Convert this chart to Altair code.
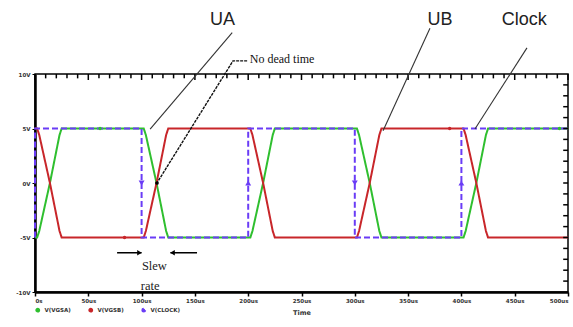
import altair as alt
import pandas as pd

# ---- data ----
time_us = [0, 2, 4, 14, 23, 25, 100, 102, 104, 114, 123, 125, 200, 202, 204, 214, 223, 225,
           300, 302, 304, 314, 323, 325, 400, 402, 404, 414, 423, 425, 500]
ua_volts = [-5, -5, -4.4, 0, 4.4, 5, 5, 5, 4.4, 0, -4.4, -5, -5, -5, -4.4, 0, 4.4, 5,
            5, 5, 4.4, 0, -4.4, -5, -5, -5, -4.4, 0, 4.4, 5, 5]
ub_volts = [5, 5, 4.4, 0, -4.4, -5, -5, -5, -4.4, 0, 4.4, 5, 5, 5, 4.4, 0, -4.4, -5,
            -5, -5, -4.4, 0, 4.4, 5, 5, 5, 4.4, 0, -4.4, -5, -5]
clock_time = [0, 0, 100, 100, 200, 200, 300, 300, 400, 400, 500]
clock_volts = [-5, 5, 5, -5, -5, 5, 5, -5, -5, 5, 5]

series_names = ["V(VGSA)", "V(VGSB)", "V(CLOCK)"]
series_colors = ["#2fbf2f", "#c8262a", "#6a3cf6"]

clock_down_t = [100, 300]
clock_up_t = [200, 400]

marker_series = ["V(VGSA)", "V(VGSA)", "V(VGSB)", "V(VGSB)"]
marker_t = [61, 492, 84, 389]
marker_v = [5, 5, -5, 5]

x_ticks = [0, 50, 100, 150, 200, 250, 300, 350, 400, 450, 500]
y_ticks = [-10, -5, 0, 5, 10]
top_minor = list(range(0, 501, 10))
right_minor = list(range(-9, 10, 1))

callout_text = ["UA", "UB", "Clock"]
callout_t = [176, 380, 459]
callout_v = [15.0, 15.0, 15.0]

leader_id = ["UA", "UA", "UB", "UB", "CK", "CK"]
leader_t = [185, 108, 370.5, 326.5, 461.5, 412.7]
leader_v = [13.8, 4.95, 14.2, 4.8, 12.4, 4.95]

ndt_t = [199, 185.7, 114.4]
ndt_v = [11.2, 11.2, 0]

slew_shaft_t = [77, 127]
slew_shaft_t2 = [100, 152]
slew_right_head_t = [98]
slew_left_head_t = [129]
slew_v = -6.4

# ---- tables ----
rows = []
for i, (t, v) in enumerate(zip(time_us, ua_volts)):
    rows.append({"series": series_names[0], "t": t, "v": v, "o": i})
for i, (t, v) in enumerate(zip(time_us, ub_volts)):
    rows.append({"series": series_names[1], "t": t, "v": v, "o": i})
for i, (t, v) in enumerate(zip(clock_time, clock_volts)):
    rows.append({"series": series_names[2], "t": t, "v": v, "o": i})
wave = pd.DataFrame(rows)

xs = alt.Scale(domain=[0, 500], nice=False, zero=False)
ys = alt.Scale(domain=[-10, 10], nice=False, zero=False)
cs = alt.Scale(domain=series_names, range=series_colors)

x_axis = alt.Axis(values=x_ticks, labelExpr="datum.value == 0 ? '0s' : datum.value + 'us'",
                  title="Time", grid=False, labelFontSize=5.5, titleFontSize=6.5,
                  labelFont="DejaVu Sans", titleFont="DejaVu Sans", labelFontWeight="bold",
                  titleFontWeight="bold", tickSize=4, tickWidth=1.5, tickColor="black",
                  domainColor="black", domainWidth=2.5, labelPadding=2, titlePadding=6,
                  labelColor="#333", titleColor="#333")
y_axis = alt.Axis(values=y_ticks, labelExpr="datum.value + 'V'", title=None, grid=False,
                  labelFontSize=5.5, labelFont="DejaVu Sans", labelFontWeight="bold",
                  tickSize=3, tickColor="black", domainColor="black", domainWidth=2.5,
                  labelColor="#333", labelPadding=2)


def X(f="t"):
    return alt.X(f"{f}:Q", scale=xs, axis=x_axis)


def Y(f="v"):
    return alt.Y(f"{f}:Q", scale=ys, axis=y_axis)


lines = alt.Chart(wave).mark_line(strokeWidth=2, interpolate="linear").encode(
    x=X(), y=Y(),
    color=alt.Color("series:N", scale=cs, sort=series_names,
                    legend=alt.Legend(orient="none", legendX=0, legendY=233, direction="horizontal",
                                      title=None, symbolType="circle", symbolSize=8,
                                      symbolStrokeWidth=2, labelFontSize=5.5, labelFont="DejaVu Sans",
                                      labelFontWeight="bold", columnPadding=14, labelColor="#333")),
    strokeDash=alt.StrokeDash("series:N", scale=alt.Scale(domain=series_names,
                              range=[[1, 0], [1, 0], [6, 3]]), legend=None),
    order="o:Q",
)

down_df = pd.DataFrame({"t": clock_down_t, "v": [0] * len(clock_down_t)})
up_df = pd.DataFrame({"t": clock_up_t, "v": [0] * len(clock_up_t)})
clock_down = alt.Chart(down_df).mark_point(shape="triangle-down", filled=True, size=35,
                                           color=series_colors[2], opacity=1).encode(x=X(), y=Y())
clock_up = alt.Chart(up_df).mark_point(shape="triangle-up", filled=True, size=35,
                                       color=series_colors[2], opacity=1).encode(x=X(), y=Y())

markers_df = pd.DataFrame({"series": marker_series, "t": marker_t, "v": marker_v})
wave_marks = alt.Chart(markers_df).mark_point(filled=True, size=12, opacity=1).encode(
    x=X(), y=Y(), color=alt.Color("series:N", scale=cs, legend=None))

# inner border ticks
top_df = pd.DataFrame({"t": top_minor, "v": [10] * len(top_minor),
                       "v2": [9.45 if t % 50 == 0 else 9.6 for t in top_minor]})
top_ticks = alt.Chart(top_df).mark_rule(color="black", strokeWidth=1.5).encode(
    x=X(), y=Y(), y2="v2:Q")
right_df = pd.DataFrame({"v": right_minor, "t": [500] * len(right_minor), "t2": [495.5] * len(right_minor)})
right_ticks = alt.Chart(right_df).mark_rule(color="black", strokeWidth=1.5).encode(
    x=X(), x2="t2:Q", y=Y())

# annotations
callouts = alt.Chart(pd.DataFrame({"t": callout_t, "v": callout_v, "txt": callout_text})).mark_text(
    font="Liberation Sans", fontSize=18, color="#222", baseline="middle", align="center").encode(
    x=X(), y=Y(), text="txt:N")

leaders = alt.Chart(pd.DataFrame({"id": leader_id, "t": leader_t, "v": leader_v})).mark_line(
    color="#333", strokeWidth=1.1).encode(x=X(), y=Y(), detail="id:N")

ndt_df = pd.DataFrame({"t": ndt_t, "v": ndt_v, "o": [0, 1, 2]})
ndt_line = alt.Chart(ndt_df).mark_line(color="#111", strokeWidth=1.4, strokeDash=[3, 1]).encode(
    x=X(), y=Y(), order="o:Q")
ndt_dot = alt.Chart(pd.DataFrame({"t": [ndt_t[-1]], "v": [ndt_v[-1]]})).mark_point(
    filled=True, size=14, color="black", opacity=1).encode(x=X(), y=Y())
ndt_text = alt.Chart(pd.DataFrame({"t": [201.5], "v": [11.35], "txt": ["No dead time"]})).mark_text(
    font="Liberation Serif", fontSize=12, color="#111", align="left", baseline="middle").encode(
    x=X(), y=Y(), text="txt:N")

shaft_df = pd.DataFrame({"t": slew_shaft_t, "t2": slew_shaft_t2, "v": [slew_v] * 2})
shafts = alt.Chart(shaft_df).mark_rule(color="black", strokeWidth=1.5).encode(x=X(), x2="t2:Q", y=Y())
head_r = alt.Chart(pd.DataFrame({"t": slew_right_head_t, "v": [slew_v]})).mark_point(
    shape="triangle-right", filled=True, size=28, color="black", opacity=1).encode(x=X(), y=Y())
head_l = alt.Chart(pd.DataFrame({"t": slew_left_head_t, "v": [slew_v]})).mark_point(
    shape="triangle-left", filled=True, size=28, color="black", opacity=1).encode(x=X(), y=Y())
slew_text = alt.Chart(pd.DataFrame({"t": [112, 108], "v": [-7.6, -9.45], "txt": ["Slew", "rate"]})).mark_text(
    font="Liberation Serif", fontSize=12.5, color="#222", align="center", baseline="middle").encode(
    x=X(), y=Y(), text="txt:N")

chart = alt.layer(
    lines, top_ticks, right_ticks, clock_down, clock_up, wave_marks, leaders, ndt_line, ndt_dot,
    ndt_text, callouts, shafts, head_r, head_l, slew_text,
).properties(
    width=533, height=218,
    autosize=alt.AutoSizeParams(type="none"),
    padding={"left": 35, "top": 74, "right": 5, "bottom": 35},
    background="white",
).configure_view(stroke="black", strokeWidth=1.5)

chart.save("out.html", embed_options={"renderer": "svg", "actions": False})
